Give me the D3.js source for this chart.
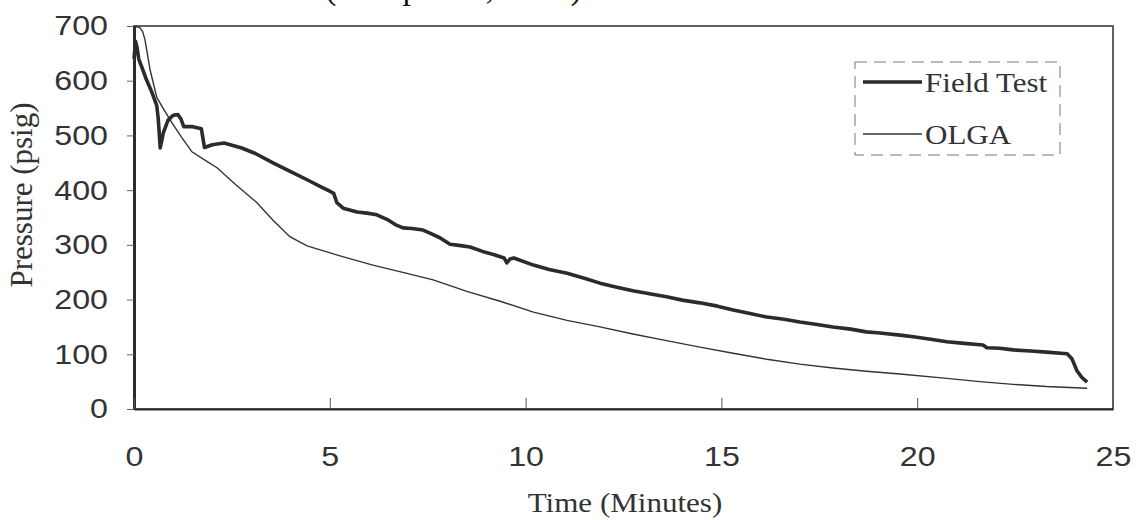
<!DOCTYPE html>
<html>
<head>
<meta charset="utf-8">
<script src="https://cdn.jsdelivr.net/npm/d3@7"></script>
<style>
  body { margin: 0; background: #fff; }
  svg { display: block; }
</style>
</head>
<body>
<svg id="chart" width="1140" height="520"></svg>
<script>
// Presion vs tiempo: prueba de campo contra OLGA

const fieldTime = [0.0, 0.04, 0.08, 0.12, 0.2, 0.3, 0.45, 0.58, 0.62, 0.67, 0.75, 0.87, 1.0, 1.12, 1.2, 1.27, 1.5, 1.72, 1.8, 2.0,
  2.3, 2.75, 3.1, 3.55, 4.0, 4.42, 4.8, 5.0, 5.1, 5.18, 5.34, 5.7, 5.95, 6.2, 6.5, 6.7, 6.87, 7.1, 7.38, 7.6,
  7.81, 8.07, 8.3, 8.58, 8.9, 9.2, 9.45, 9.52, 9.6, 9.7, 10.2, 10.6, 11.06, 11.5, 11.9, 12.3, 12.74, 13.2, 13.6, 14.0,
  14.45, 14.9, 15.3, 15.7, 16.16, 16.6, 17.0, 17.4, 17.85, 18.3, 18.7, 19.05, 19.56, 19.9, 20.3, 20.76, 21.2, 21.68, 21.78, 22.1,
  22.45, 22.9, 23.3, 23.83, 23.95, 24.08, 24.2, 24.34];
const fieldPressure = [640, 672, 660, 640, 625, 605, 580, 555, 530, 477, 505, 528, 537, 538, 530, 516, 516, 512, 478, 483,
  486, 477, 467, 450, 434, 419, 405, 398, 394, 377, 367, 360, 358, 355, 345, 336, 331, 330, 327, 320,
  313, 301, 299, 296, 288, 282, 276, 267, 274, 276, 263, 255, 248, 239, 230, 223, 216, 210, 205, 199,
  194, 188, 181, 175, 168, 164, 159, 155, 150, 146, 141, 139, 135, 132, 128, 123, 120, 117, 112, 111,
  108, 106, 104, 101, 92, 70, 58, 49];

const olgaTime = [0, 0.15, 0.22, 0.28, 0.41, 0.58, 0.74, 0.97, 1.23, 1.48, 1.81, 2.12, 2.6, 3.14, 3.55, 3.98, 4.42, 5.26, 6.1, 6.97,
  7.64, 8.5, 9.35, 10.2, 11.06, 11.9, 12.74, 13.6, 14.45, 15.3, 16.16, 17.0, 17.85, 18.7, 19.56, 20.76, 21.6, 22.45, 23.3, 24.34];
const olgaPressure = [700, 697, 690, 675, 620, 570, 550, 523, 495, 470, 455, 441, 410, 377, 345, 315, 298, 280, 263, 248,
  236, 215, 197, 177, 162, 150, 137, 125, 113, 102, 91, 82, 75, 69, 64, 56, 50, 45, 41, 38];

const xTicks = [0, 5, 10, 15, 20, 25];
const yTicks = [0, 100, 200, 300, 400, 500, 600, 700];
const seriesNames = ["Field Test", "OLGA"];

const svg = d3.select("#chart");
const stretch = 1.15; // la imagen original esta algo estirada a lo ancho
const inkColor = "#2b2b2b";

const x = d3.scaleLinear().domain([0, 25]).range([134, 1113]);
const y = d3.scaleLinear().domain([0, 700]).range([409, 26]);

// titulo cortado arriba (solo se ven los trazos de abajo)
svg.append("text")
  .attr("transform", "translate(325, -1)")
  .style("font-family", "'Liberation Serif', 'Times New Roman', serif")
  .style("font-size", "34px")
  .attr("fill", "#111")
  .text("(Completed, 1993)");

// marco
svg.append("rect")
  .attr("x", x(0)).attr("y", y(700))
  .attr("width", x(25) - x(0)).attr("height", y(0) - y(700))
  .attr("fill", "none").attr("stroke", "#3a3a3a").attr("stroke-width", 1.6);

// Eje Y
const yAxis = svg.append("g")
  .attr("transform", `translate(${x(0)},0)`)
  .call(d3.axisLeft(y).tickValues(yTicks).tickSize(7).tickSizeOuter(0));
yAxis.select(".domain").attr("stroke", inkColor).attr("stroke-width", 3);
yAxis.selectAll(".tick line").attr("stroke", "#666");
yAxis.selectAll("text")
  .attr("x", 0)
  .attr("transform", `translate(-26,0) scale(${stretch},1)`)
  .style("font-family", "'Liberation Sans', Arial, sans-serif")
  .style("font-size", "28px")
  .attr("fill", "#333");

// Eje X
const xAxis = svg.append("g")
  .attr("transform", `translate(0,${y(0)})`)
  .call(d3.axisBottom(x).tickValues(xTicks).tickSizeInner(-11).tickSizeOuter(0));
xAxis.select(".domain").attr("stroke", inkColor).attr("stroke-width", 2);
xAxis.selectAll(".tick line").attr("stroke", "#555");
xAxis.selectAll("text")
  .attr("y", 0).attr("dy", 0)
  .attr("transform", `translate(0,57) scale(${stretch},1)`)
  .style("font-family", "'Liberation Sans', Arial, sans-serif")
  .style("font-size", "28px")
  .attr("fill", "#333");

// titulos de ejes
svg.append("text")
  .attr("transform", `translate(625,512) scale(${stretch},1)`)
  .attr("text-anchor", "middle")
  .style("font-family", "'Liberation Serif', 'Times New Roman', serif")
  .style("font-size", "27px")
  .attr("fill", "#333")
  .text("Time (Minutes)");

svg.append("text")
  .attr("transform", "translate(32,195) rotate(-90)")
  .attr("text-anchor", "middle")
  .style("font-family", "'Liberation Serif', 'Times New Roman', serif")
  .style("font-size", "31px")
  .attr("fill", "#333")
  .text("Pressure (psig)");

// lineas
const fieldData = fieldTime.map((t, i) => ({ t: t, p: fieldPressure[i] }));
const olgaData = olgaTime.map((t, i) => ({ t: t, p: olgaPressure[i] }));

const line = d3.line().x(d => x(d.t)).y(d => y(d.p));

svg.append("path")
  .datum(olgaData)
  .attr("d", line)
  .attr("fill", "none")
  .attr("stroke", "#333")
  .attr("stroke-width", 1.4);

svg.append("path")
  .datum(fieldData)
  .attr("d", line)
  .attr("fill", "none")
  .attr("stroke", inkColor)
  .attr("stroke-width", 3.6)
  .attr("stroke-linejoin", "round");

// Leyenda
const legend = svg.append("g").attr("transform", "translate(855,62)");
legend.append("rect")
  .attr("width", 205).attr("height", 93)
  .attr("fill", "#fff")
  .attr("stroke", "#777").attr("stroke-width", 1)
  .attr("stroke-dasharray", "12,7");

seriesNames.forEach((name, i) => {
  const row = legend.append("g").attr("transform", `translate(0, ${20 + i * 52})`);
  row.append("line")
    .attr("x1", 8).attr("x2", 67)
    .attr("stroke", i === 0 ? inkColor : "#333")
    .attr("stroke-width", i === 0 ? 3.6 : 1.4);
  row.append("text")
    .attr("transform", `translate(70,10) scale(${stretch},1)`)
    .style("font-family", "'Liberation Serif', 'Times New Roman', serif")
    .style("font-size", "27px")
    .attr("fill", "#333")
    .text(name);
});
</script>
</body>
</html>
